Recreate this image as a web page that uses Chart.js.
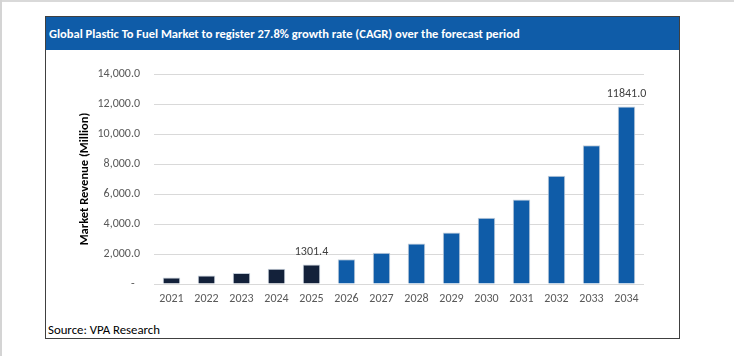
<!DOCTYPE html>
<html>
<head>
<meta charset="utf-8">
<script src="https://cdn.jsdelivr.net/npm/chart.js@4/dist/chart.umd.min.js"></script>
<style>
html,body{margin:0;padding:0;background:#fff;}
body{width:734px;height:356px;position:relative;overflow:hidden;font-family:Carlito,"Liberation Sans Narrow",Lato,sans-serif;}
#edgeTop{position:absolute;left:0;top:0;width:734px;height:2px;background:#d9d9d9;}
#edgeLeft{position:absolute;left:0;top:0;width:2px;height:356px;background:#d4d4d4;}
#box{position:absolute;left:45px;top:16px;width:633px;height:321px;border:1px solid #404040;}
#header{position:absolute;left:0;top:0;width:633px;height:33px;background:#0f5ca8;color:#fff;font-weight:bold;font-size:12.5px;line-height:33px;padding-left:3px;box-sizing:border-box;white-space:nowrap;}
#source{position:absolute;left:2px;top:305px;font-size:12.8px;line-height:15px;color:#000;white-space:nowrap;}
#chart{position:absolute;left:0;top:0;}
</style>
</head>
<body>
<div id="edgeTop"></div>
<div id="edgeLeft"></div>
<div id="box">
  <div id="header">Global Plastic To Fuel Market to register 27.8% growth rate (CAGR) over the forecast period</div>
  <div id="source">Source: VPA Research</div>
</div>
<canvas id="chart" width="734" height="356"></canvas>
<script>
// ---- data ----
const years = ['2021','2022','2023','2024','2025','2026','2027','2028','2029','2030','2031','2032','2033','2034'];
const revenue = [430, 560, 740, 1020, 1301.4, 1650, 2090, 2700, 3440, 4420, 5640, 7210, 9250, 11841.0];
const valueLabels = ['', '', '', '', '1301.4', '', '', '', '', '', '', '', '', '11841.0'];
const historicalYears = ['2021','2022','2023','2024','2025'];
const yTickValues = [0, 2000, 4000, 6000, 8000, 10000, 12000, 14000];
const yTitle = 'Market Revenue (Million)';

const FONT = 'Carlito, "Liberation Sans Narrow", Lato, sans-serif';
const HIST_COLOR = '#13213a';
const FORE_COLOR = '#0f5ca8';

const barColors = years.map(y => historicalYears.includes(y) ? HIST_COLOR : FORE_COLOR);

const valueLabelPlugin = {
  id: 'valueLabels',
  afterDatasetsDraw(chart) {
    const ctx = chart.ctx;
    const meta = chart.getDatasetMeta(0);
    ctx.save();
    ctx.font = '12px ' + FONT;
    ctx.fillStyle = '#404040';
    ctx.textAlign = 'center';
    ctx.textBaseline = 'middle';
    meta.data.forEach((bar, i) => {
      if (valueLabels[i]) ctx.fillText(valueLabels[i], bar.x, bar.y - 12);
    });
    ctx.restore();
  }
};

new Chart(document.getElementById('chart'), {
  type: 'bar',
  data: {
    labels: years,
    datasets: [{
      data: revenue,
      backgroundColor: barColors,
      borderColor: '#c3cdd9',
      borderWidth: 1,
      categoryPercentage: 1.0,
      barPercentage: 0.5
    }]
  },
  options: {
    responsive: false,
    animation: false,
    events: [],
    layout: { padding: { left: 73, right: 90, top: 74, bottom: 42 } },
    plugins: { legend: { display: false }, tooltip: { enabled: false }, title: { display: false } },
    scales: {
      x: {
        grid: { display: false, drawTicks: false },
        border: { display: false },
        ticks: { color: '#595959', font: { family: FONT, size: 12 }, padding: 8, maxRotation: 0 },
        afterFit(scale) { scale.height = 30; }
      },
      y: {
        min: 0,
        max: 14000,
        afterBuildTicks(scale) { scale.ticks = yTickValues.map(v => ({ value: v })); },
        grid: { color: '#d9d9d9', lineWidth: 1, drawTicks: false },
        border: { display: false },
        ticks: {
          color: '#595959',
          font: { family: FONT, size: 12 },
          padding: 14,
          callback(v) {
            if (v === 0) return '-  ';
            return v.toLocaleString('en-US', { minimumFractionDigits: 1, maximumFractionDigits: 1 });
          }
        },
        title: { display: true, text: yTitle, color: '#000', font: { family: FONT, size: 12.5, weight: 'bold' } },
        afterFit(scale) { scale.width = 81; }
      }
    }
  },
  plugins: [valueLabelPlugin]
});
</script>
</body>
</html>
